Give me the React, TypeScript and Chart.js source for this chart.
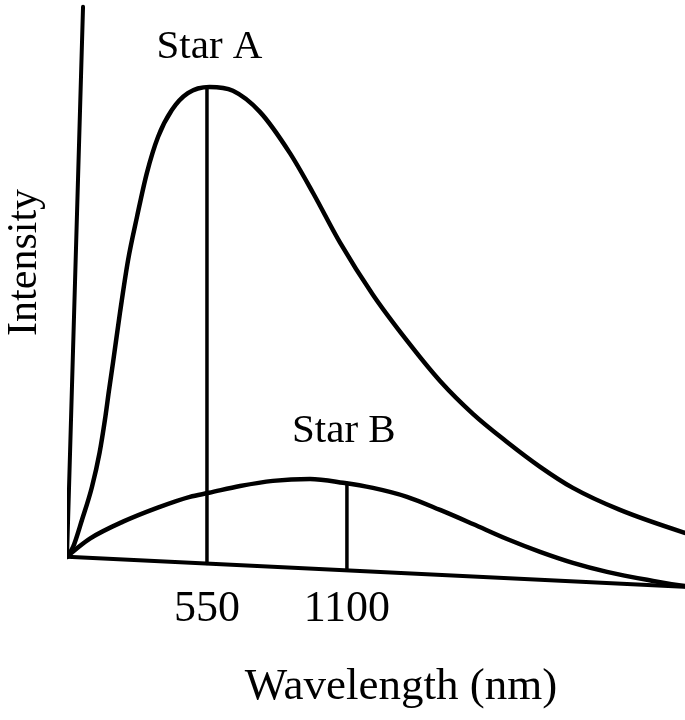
import React, { useEffect, useRef } from "react";
import { Chart, registerables } from "chart.js";

Chart.register(...registerables);

// Curves (wavelength in nm, intensity in arbitrary units, Star A peak = 100)
const starAWavelength = [0, 24, 59, 98, 128, 149, 165, 181, 208, 240, 275, 314, 358, 412, 475, 560, 652, 758, 876, 967, 1073, 1202, 1336, 1466, 1595, 1729, 1859, 1988, 2173, 2428, 2625];
const starAIntensity = [0, 2.1, 7.9, 14.9, 22.2, 29.2, 35.5, 41.5, 52.0, 63.3, 72.5, 81.9, 89.6, 95.3, 98.9, 100.2, 99.4, 94.9, 86.1, 77.6, 67.0, 55.9, 46.1, 37.5, 30.5, 24.5, 19.2, 14.7, 10.0, 5.1, 1.9];

const starBWavelength = [0, 43, 90, 220, 354, 483, 558, 680, 809, 955, 1085, 1202, 1336, 1466, 1595, 1729, 1859, 1988, 2122, 2279, 2428, 2625];
const starBIntensity = [0, 2.0, 3.9, 7.5, 10.45, 12.8, 13.65, 15.1, 16.2, 16.6, 15.8, 14.7, 12.8, 10.0, 7.0, 3.8, 1.07, -1.28, -3.2, -4.9, -6.2, -6.7];

// Axis lines as drawn in the (slightly tilted) figure
const xAxisLineX = [0, 2625];
const xAxisLineY = [0, -6.9];
const yAxisLineX = [0, 63];
const yAxisLineY = [0, 117.3];

// Peak-wavelength markers
const peakLineX = [550, 1100];
const peakLineBottom = [-1.45, -2.89];
const peakLineTop = [100.2, 15.7];

// Tick labels
const tickValues = [550, 1100];
const tickLabels = ["550", "1100"];

// Curve labels
const annotationLabels = ["Star A", "Star B"];
const annotationX = [560, 1088];
const annotationY = [108.6, 26.7];

const SERIF = '"Liberation Serif", "Times New Roman", serif';

const zip = (xs: number[], ys: number[]) => xs.map((x, i) => ({ x, y: ys[i] }));

export default function App() {
  const ref = useRef<HTMLCanvasElement>(null);

  useEffect(() => {
    const canvas = ref.current;
    if (!canvas) return;

    const labelPlugin = {
      id: "starLabels",
      afterDatasetsDraw(chart: any) {
        const { ctx, scales } = chart;
        const x = scales.x;
        const y = scales.y;
        ctx.save();
        ctx.font = `41px ${SERIF}`;
        ctx.fillStyle = "#000";
        ctx.textAlign = "center";
        ctx.textBaseline = "middle";
        annotationLabels.forEach((t, i) => {
          ctx.fillText(t, x.getPixelForValue(annotationX[i]), y.getPixelForValue(annotationY[i]));
        });
        ctx.restore();
      },
    };

    const base = {
      borderColor: "#000",
      backgroundColor: "#000",
      pointRadius: 0,
      pointHoverRadius: 0,
      fill: false,
      tension: 0,
      borderCapStyle: "round" as const,
    };

    const chart = new Chart(canvas, {
      type: "line",
      data: {
        datasets: [
          { label: "Intensity axis", data: zip(yAxisLineX, yAxisLineY), ...base, borderWidth: 4 },
          { label: "Wavelength axis", data: zip(xAxisLineX, xAxisLineY), ...base, borderWidth: 4 },
          {
            label: "Star A",
            data: zip(starAWavelength, starAIntensity),
            ...base,
            borderWidth: 4.5,
            cubicInterpolationMode: "monotone",
          },
          {
            label: "Star B",
            data: zip(starBWavelength, starBIntensity),
            ...base,
            borderWidth: 4.5,
            cubicInterpolationMode: "monotone",
          },
          {
            label: "Star A peak",
            data: [
              { x: peakLineX[0], y: peakLineBottom[0] },
              { x: peakLineX[0], y: peakLineTop[0] },
            ],
            ...base,
            borderWidth: 3.5,
          },
          {
            label: "Star B peak",
            data: [
              { x: peakLineX[1], y: peakLineBottom[1] },
              { x: peakLineX[1], y: peakLineTop[1] },
            ],
            ...base,
            borderWidth: 3.5,
          },
        ],
      },
      options: {
        animation: false,
        responsive: false,
        events: [],
        layout: { padding: { top: 3, right: 5, left: 0, bottom: 0 } },
        plugins: {
          legend: { display: false },
          tooltip: { enabled: false },
        },
        scales: {
          x: {
            type: "linear",
            position: "bottom",
            min: 0,
            max: 2625,
            grid: { display: false, drawTicks: false },
            border: { display: false },
            afterBuildTicks: (scale: any) => {
              scale.ticks = tickValues.map((v) => ({ value: v }));
            },
            ticks: {
              autoSkip: false,
              maxRotation: 0,
              padding: 0,
              color: "#000",
              font: { family: SERIF, size: 44, lineHeight: 0.8 },
              callback: (value: any) => {
                const i = tickValues.indexOf(Number(value));
                return i >= 0 ? tickLabels[i] : "";
              },
            },
            title: {
              display: true,
              text: "Wavelength (nm)",
              color: "#000",
              font: { family: SERIF, size: 45, lineHeight: 1.2 },
              padding: { top: 33, bottom: 6 },
            },
          },
          y: {
            type: "linear",
            position: "left",
            min: -7.46,
            max: 133.05,
            grid: { display: false, drawTicks: false },
            border: { display: false },
            ticks: { display: false },
            title: {
              display: true,
              text: "Intensity",
              color: "#000",
              font: { family: SERIF, size: 42, lineHeight: 1.2 },
              padding: { top: 0, bottom: 16.6 },
            },
          },
        },
      },
      plugins: [labelPlugin],
    });

    return () => chart.destroy();
  }, []);

  return (
    <div
      style={{
        position: "fixed",
        left: 0,
        top: 0,
        width: 685,
        height: 720,
        overflow: "hidden",
        background: "#fff",
      }}
    >
      <canvas
        ref={ref}
        width={740}
        height={790}
        style={{ position: "absolute", left: 0, top: -70, width: 740, height: 790 }}
      />
    </div>
  );
}
